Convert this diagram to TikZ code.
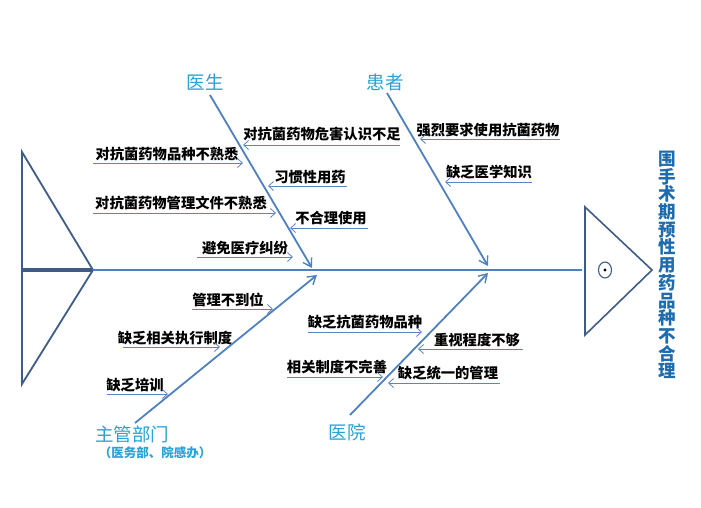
\documentclass[tikz,border=0pt]{standalone}
\usepackage{fontspec}
\newfontfamily\cjk{Noto Sans CJK SC}
\usetikzlibrary{arrows.meta}
\definecolor{spinec}{HTML}{4F81BD}
\definecolor{tailc}{HTML}{3E5C86}
\definecolor{causec}{HTML}{5B85C2}
\definecolor{labc}{HTML}{2AA2D4}
\definecolor{titlec}{HTML}{1E6BAE}
\begin{document}
\begin{tikzpicture}[x=1pt,y=-1pt,
 bone/.style={spinec, line width=1.8pt, -{Straight Barb[length=8pt,width=10pt,line width=1.4pt]}},
 causearrow/.style={causec, line width=0.8pt, -{Straight Barb[length=5pt,width=9pt]}},
 causetext/.style={font=\cjk\bfseries\fontsize{14.3}{15}\selectfont, text=black, inner sep=0pt},
 catlabel/.style={font=\cjk\fontsize{18.5}{20}\selectfont, text=labc, inner sep=0pt},
 tailline/.style={tailc, line width=1.8pt, line join=miter},
]
\useasboundingbox[fill=white] (0,0) rectangle (701,507);

% spine and tail
\coordinate (tailtop) at (22,152);
\coordinate (tailbot) at (22,384);
\coordinate (tailmid) at (22,270);
\coordinate (tailtip) at (93,270);
\coordinate (spineend) at (582,270);
\draw[tailline] (tailtop) -- (tailtip) -- (tailbot) -- cycle;
\draw[tailc, line width=3.2pt] (tailmid) -- (tailtip);
\draw[spinec, line width=1.8pt] (tailtip) -- (spineend);

% head
\coordinate (headtop) at (585,207);
\coordinate (headtip) at (652,270);
\coordinate (headbot) at (585,335);
\draw[tailline, line width=1.6pt] (headtop) -- (headtip) -- (headbot) -- cycle;
\coordinate (eye) at (605,270);
\draw[tailc, line width=1.1pt] (eye) ellipse[x radius=6.5, y radius=8];
\fill[black] (eye) circle[radius=1.6];

\node[font=\cjk\bfseries\fontsize{17.5}{17.7}\selectfont, text=titlec, align=center, inner sep=0pt] (title) at (667,265)
 {围\\手\\术\\期\\预\\性\\用\\药\\品\\种\\不\\合\\理};

% category labels
\node[catlabel] (doc) at (205,82) {医生};
\node[catlabel] (pat) at (385,82) {患者};
\node[catlabel] (adm) at (132,434) {主管部门};
\node[font=\cjk\bfseries\fontsize{12.5}{13}\selectfont, text=labc, inner sep=0pt] (admsub) at (155,453) {（医务部、院感办）};
\node[catlabel] (hos) at (347,432) {医院};

% bones
\coordinate (docS) at (210,95);  \coordinate (docE) at (312,268);
\coordinate (patS) at (387,93);  \coordinate (patE) at (488,266);
\coordinate (admS) at (135,423); \coordinate (admE) at (317,275);
\coordinate (hosS) at (350,415); \coordinate (hosE) at (488,273);
\draw[bone] (docS) -- (docE);
\draw[bone] (patS) -- (patE);
\draw[bone] (admS) -- (admE);
\draw[bone] (hosS) -- (hosE);

% doctor causes
\node[causetext] (d1) at (322,134) {对抗菌药物危害认识不足};
\coordinate (d1a) at (400,145); \coordinate (d1b) at (243,145);
\draw[causearrow] (d1a) -- (d1b);
\node[causetext] (d2) at (167,154) {对抗菌药物品种不熟悉};
\coordinate (d2a) at (93,163); \coordinate (d2b) at (243,163);
\draw[causearrow] (d2a) -- (d2b);
\node[causetext] (d3) at (310,177) {习惯性用药};
\coordinate (d3a) at (347,186); \coordinate (d3b) at (268,186);
\draw[causearrow] (d3a) -- (d3b);
\node[causetext] (d4) at (181,203) {对抗菌药物管理文件不熟悉};
\coordinate (d4a) at (93,213); \coordinate (d4b) at (276,213);
\draw[causearrow] (d4a) -- (d4b);
\node[causetext] (d5) at (331,218) {不合理使用};
\coordinate (d5a) at (368,228); \coordinate (d5b) at (290,228);
\draw[causearrow] (d5a) -- (d5b);
\node[causetext] (d6) at (245,248) {避免医疗纠纷};
\coordinate (d6a) at (197,257); \coordinate (d6b) at (293,257);
\draw[causearrow] (d6a) -- (d6b);

% patient causes
\node[causetext] (p1) at (488,130) {强烈要求使用抗菌药物};
\coordinate (p1a) at (560,139); \coordinate (p1b) at (420,139);
\draw[causearrow] (p1a) -- (p1b);
\node[causetext] (p2) at (489,172) {缺乏医学知识};
\coordinate (p2a) at (532,182); \coordinate (p2b) at (445,182);
\draw[causearrow] (p2a) -- (p2b);

% administration causes
\node[causetext] (a1) at (228,300) {管理不到位};
\coordinate (a1a) at (192,309); \coordinate (a1b) at (273,309);
\draw[causearrow] (a1a) -- (a1b);
\node[causetext] (a2) at (175,338) {缺乏相关执行制度};
\coordinate (a2a) at (123,347); \coordinate (a2b) at (220,347);
\draw[causearrow] (a2a) -- (a2b);
\node[causetext] (a3) at (135,385) {缺乏培训};
\coordinate (a3a) at (107,394); \coordinate (a3b) at (168,394);
\draw[causearrow] (a3a) -- (a3b);

% hospital causes
\node[causetext] (h1) at (365,322) {缺乏抗菌药物品种};
\coordinate (h1a) at (308,332); \coordinate (h1b) at (422,332);
\draw[causearrow] (h1a) -- (h1b);
\node[causetext] (h2) at (477,340) {重视程度不够};
\coordinate (h2a) at (523,349); \coordinate (h2b) at (418,349);
\draw[causearrow] (h2a) -- (h2b);
\node[causetext] (h3) at (337,367) {相关制度不完善};
\coordinate (h3a) at (287,377); \coordinate (h3b) at (383,377);
\draw[causearrow] (h3a) -- (h3b);
\node[causetext] (h4) at (448,373) {缺乏统一的管理};
\coordinate (h4a) at (500,383); \coordinate (h4b) at (388,383);
\draw[causearrow] (h4a) -- (h4b);
\end{tikzpicture}
\end{document}
